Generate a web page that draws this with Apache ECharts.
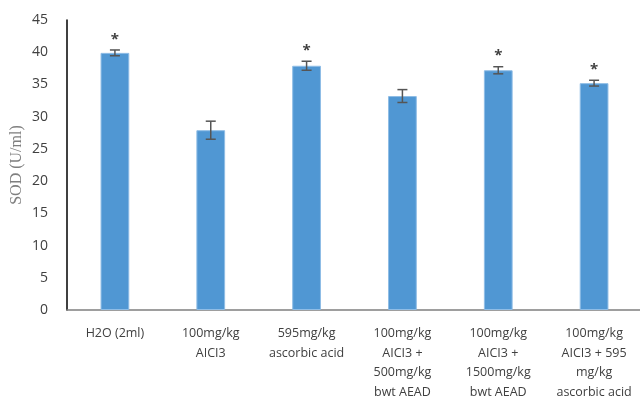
<!DOCTYPE html>
<html>
<head>
<meta charset="utf-8">
<script src="https://cdn.jsdelivr.net/npm/echarts@6/dist/echarts.min.js"></script>
<style>
  html, body { margin: 0; padding: 0; background: #fff; }
  #chart { width: 640px; height: 406px; }
</style>
</head>
<body>
<div id="chart"></div>
<script>
// 数据
var categories = [
    "H2O (2ml)",
    "100mg/kg\nAICI3",
    "595mg/kg\nascorbic acid",
    "100mg/kg\nAICI3 +\n500mg/kg\nbwt AEAD",
    "100mg/kg\nAICI3 +\n1500mg/kg\nbwt AEAD",
    "100mg/kg\nAICI3 + 595\nmg/kg\nascorbic acid"
];
var sodMean = [39.9, 27.9, 37.9, 33.2, 37.2, 35.2];
var sodErr = [0.45, 1.4, 0.7, 1.0, 0.55, 0.45];
var starMark = [1, 0, 1, 0, 1, 1];
var yTicks = [0, 45, 5];

var errData = sodMean.map(function(v, i){ return [i, v - sodErr[i], v + sodErr[i], starMark[i]]; });

var chart = echarts.init(document.getElementById("chart"));
var option = {
    animation: false,
    grid: { left: 67, right: -2, top: 20, bottom: 96, outerBoundsMode: "none", containLabel: false },
    xAxis: {
        type: "category",
        data: categories,
        axisLine: { lineStyle: { color: "#7f7f7f", width: 1.5 } },
        axisTick: { show: false },
        axisLabel: {
            interval: 0,
            color: "#404040",
            fontFamily: "Open Sans",
            fontSize: 12.5,
            lineHeight: 19.5,
            margin: 14
        }
    },
    yAxis: {
        type: "value",
        min: yTicks[0],
        max: yTicks[1],
        interval: yTicks[2],
        name: "SOD (U/ml)",
        nameLocation: "middle",
        nameGap: 42,
        nameMoveOverlap: false,
        nameTextStyle: { fontFamily: "Liberation Serif", fontSize: 16, color: "#7f7f7f" },
        axisLine: { show: true, lineStyle: { color: "#000", width: 1.5 } },
        axisTick: { show: false },
        splitLine: { show: false },
        axisLabel: { color: "#404040", fontFamily: "Open Sans", fontSize: 14, margin: 19 }
    },
    series: [
        {
            type: "bar",
            data: sodMean,
            barWidth: "30%",
            itemStyle: { color: "#5097d3", borderColor: "#8fbde6", borderWidth: 1 }
        },
        {
            type: "custom",
            data: errData,
            z: 10,
            renderItem: function(params, api){
                var x = api.value(0);
                var lo = api.coord([x, api.value(1)]);
                var hi = api.coord([x, api.value(2)]);
                var hw = 5;
                var style = { stroke: "#555", lineWidth: 1.5 };
                var children = [
                    { type: "line", shape: { x1: lo[0], y1: lo[1], x2: hi[0], y2: hi[1] }, style: style },
                    { type: "line", shape: { x1: lo[0]-hw, y1: lo[1], x2: lo[0]+hw, y2: lo[1] }, style: style },
                    { type: "line", shape: { x1: hi[0]-hw, y1: hi[1], x2: hi[0]+hw, y2: hi[1] }, style: style }
                ];
                if (api.value(3)) {
                    children.push({
                        type: "text",
                        style: {
                            x: hi[0], y: hi[1] - 3,
                            text: "*",
                            fill: "#404040",
                            font: "bold 15px Open Sans",
                            align: "center",
                            verticalAlign: "bottom"
                        }
                    });
                }
                return { type: "group", children: children };
            }
        }
    ]
};
chart.setOption(option);
</script>
</body>
</html>
